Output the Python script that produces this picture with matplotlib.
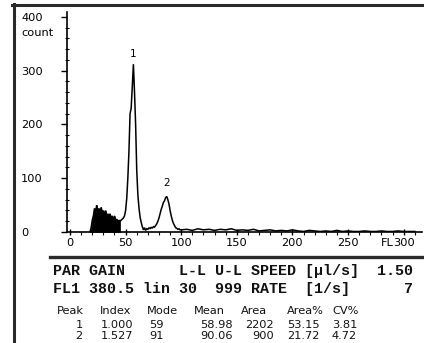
import matplotlib
matplotlib.use('Agg')
import matplotlib.pyplot as plt
from matplotlib.lines import Line2D
import numpy as np

# ---------------- data ----------------
channels = [18, 19, 20, 21, 22, 23, 24, 25, 26, 27, 28, 29, 30, 31, 32, 33, 34, 35, 36, 37,
            38, 39, 40, 41, 42, 43, 44, 45, 46, 47, 48, 49, 50, 51, 52, 53, 54, 55, 56, 57,
            58, 59, 60, 61, 62, 63, 64, 65, 66, 67, 68, 69, 70, 71, 72, 73, 74, 75, 76, 77,
            78, 79, 80, 81, 82, 83, 84, 85, 86, 87, 88, 89, 90, 91, 92, 93, 94, 95, 96, 97,
            98, 99, 100, 105, 110, 115, 120, 125, 130, 135, 140, 145, 150, 155, 160, 165,
            170, 175, 180, 185, 190, 195, 200, 205, 210, 215, 220, 225, 230, 235, 240, 245,
            250, 255, 260, 265, 270, 275, 280, 285, 290, 295, 300, 305, 310]
counts = [0, 8, 22, 30, 44, 36, 50, 38, 44, 34, 46, 33, 40, 30, 40, 28, 34, 26, 34, 24,
          30, 20, 30, 20, 24, 18, 22, 20, 22, 24, 26, 30, 40, 62, 100, 150, 220, 230, 270, 312,
          260, 200, 115, 70, 45, 28, 18, 10, 4, 8, 3, 6, 5, 8, 6, 9, 7, 10, 9, 12,
          15, 20, 26, 34, 42, 48, 55, 58, 64, 66, 60, 52, 40, 30, 22, 16, 12, 8, 7, 5,
          6, 4, 4, 5, 3, 6, 4, 5, 3, 5, 4, 6, 3, 4, 3, 5,
          2, 3, 4, 2, 3, 2, 4, 2, 1, 3, 2, 1, 2, 1, 3, 1,
          2, 1, 1, 2, 1, 1, 2, 1, 1, 2, 1, 1, 1]
fill_end = 45

peak_labels = ['1', '2']
peak_channels = [57, 87]
peak_counts = [312, 66]

x_major = [0, 50, 100, 150, 200, 250, 300]
x_labels = ['0', '50', '100', '150', '200', '250', '300']
x_minor = list(range(0, 311, 10))
y_major = [0, 100, 200, 300, 400]
y_labels = ['0', '100', '200', '300', '400']
y_minor = list(range(0, 401, 20))
x_prefix = 'FL'
y_name = 'count'

info_line1 = 'PAR GAIN      L-L U-L SPEED [µl/s]  1.50'
info_line2 = 'FL1 380.5 lin 30  999 RATE  [1/s]      7'

tbl_header = ['Peak', 'Index', 'Mode', 'Mean', 'Area', 'Area%', 'CV%']
tbl_peak = ['1', '2']
tbl_index = ['1.000', '1.527']
tbl_mode = ['59', '91']
tbl_mean = ['58.98', '90.06']
tbl_area = ['2202', '900']
tbl_areapct = ['53.15', '21.72']
tbl_cv = ['3.81', '4.72']

# ---------------- figure ----------------
W, H = 424, 343
fig = plt.figure(figsize=(W / 100, H / 100), dpi=100)
fig.patch.set_facecolor('white')


def fx(px):
    return px / W


def fy(py):
    return 1 - py / H


ax = fig.add_axes([fx(67), fy(232), fx(422) - fx(67), fy(12) - fy(232)])
ax.set_facecolor('none')
ch = np.array(channels)
ct = np.array(counts)
ax.plot(ch, ct, color='black', lw=1.1, solid_joinstyle='miter')
m = ch <= fill_end
ax.fill_between(ch[m], 0, ct[m], color='black', lw=0.5, edgecolor='black')
ax.set_xlim(-2.7, 316.5)
ax.set_ylim(0, 409)
for s in ['top', 'right']:
    ax.spines[s].set_visible(False)
ax.spines['left'].set_linewidth(1.2)
ax.spines['bottom'].set_linewidth(1.2)

tick_font = dict(family='DejaVu Sans', size=8.2)
ax.set_xticks(x_major)
ax.set_xticklabels(x_labels, **tick_font)
ax.set_xticks(x_minor, minor=True)
ax.set_yticks(y_major)
ax.set_yticklabels(y_labels, **tick_font)
ax.set_yticks(y_minor, minor=True)
ax.tick_params(axis='x', which='major', direction='inout', length=5, width=1.0, pad=1.5)
ax.tick_params(axis='x', which='minor', direction='out', length=2, width=0.8)
ax.tick_params(axis='y', which='major', direction='out', length=4, width=1.0, pad=29)
ax.tick_params(axis='y', which='minor', direction='inout', length=3, width=0.8)
for lab in ax.get_yticklabels():
    lab.set_ha('left')

ax.annotate(x_prefix, xy=(300, 0), xycoords=('data', 'axes fraction'),
            xytext=(-7.4, -4.0), textcoords='offset points', ha='right', va='top', **tick_font)
fig.text(fx(21), fy(33), y_name, ha='left', va='center', **tick_font)

offs = [3.5, 6.0]
for lab, c, v, o in zip(peak_labels, peak_channels, peak_counts, offs):
    ax.annotate(lab, xy=(c, v), xytext=(0, o), textcoords='offset points',
                ha='center', va='bottom', family='DejaVu Sans', size=7.5)

# frame lines
fig.add_artist(Line2D([fx(12), 1], [fy(5), fy(5)], lw=2.2, color='#2a2a2a',
                      transform=fig.transFigure))
fig.add_artist(Line2D([fx(13.5), fx(13.5)], [fy(4), 0], lw=2.2, color='#2a2a2a',
                      transform=fig.transFigure))
fig.add_artist(Line2D([fx(50), 1], [fy(256.5), fy(256.5)], lw=2.4, color='#2a2a2a',
                      transform=fig.transFigure))

mono = dict(family='Liberation Mono', weight='bold', size=10.8, color='#111111')
fig.text(fx(53), fy(271), info_line1, ha='left', va='center', **mono)
fig.text(fx(53), fy(289), info_line2, ha='left', va='center', **mono)

tf = dict(family='DejaVu Sans', size=8.2, color='#111111')
hx = [57, 100, 147, 194, 241, 287, 332]
for h, x in zip(tbl_header, hx):
    fig.text(fx(x), fy(311), h, ha='left', va='center', **tf)
row_y = [325, 336]
for i, y in enumerate(row_y):
    fig.text(fx(79), fy(y), tbl_peak[i], ha='center', va='center', **tf)
    fig.text(fx(101), fy(y), tbl_index[i], ha='left', va='center', **tf)
    fig.text(fx(149), fy(y), tbl_mode[i], ha='left', va='center', **tf)
    fig.text(fx(233), fy(y), tbl_mean[i], ha='right', va='center', **tf)
    fig.text(fx(274), fy(y), tbl_area[i], ha='right', va='center', **tf)
    fig.text(fx(287), fy(y), tbl_areapct[i], ha='left', va='center', **tf)
    fig.text(fx(332), fy(y), tbl_cv[i], ha='left', va='center', **tf)

fig.savefig('out.png', dpi=100, facecolor='white')
